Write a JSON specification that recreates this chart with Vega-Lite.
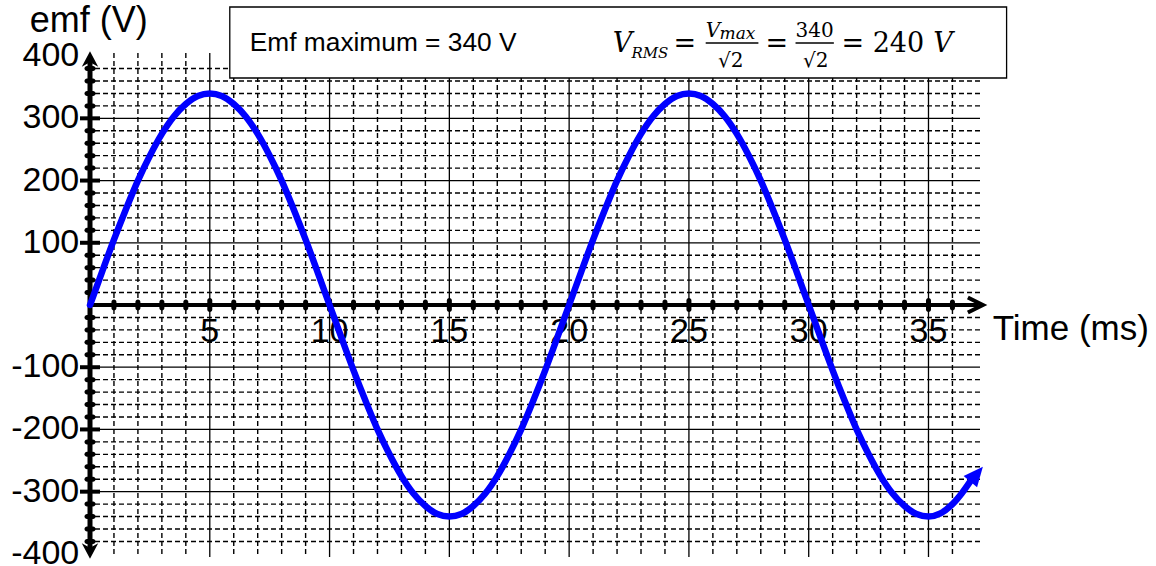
{
  "$schema": "https://vega.github.io/schema/vega-lite/v6.json",
  "width": 890,
  "height": 504,
  "autosize": "none",
  "padding": {"left": 90, "top": 53, "right": 176, "bottom": 9},
  "background": "white",
  "config": {"view": {"stroke": null}, "axis": {"disable": true}},
  "datasets": {
    "vminor": [{"x":1},{"x":2},{"x":3},{"x":4},{"x":6},{"x":7},{"x":8},{"x":9},{"x":11},{"x":12},{"x":13},{"x":14},{"x":16},{"x":17},{"x":18},{"x":19},{"x":21},{"x":22},{"x":23},{"x":24},{"x":26},{"x":27},{"x":28},{"x":29},{"x":31},{"x":32},{"x":33},{"x":34},{"x":36}],
    "vmajor": [{"x":5},{"x":10},{"x":15},{"x":20},{"x":25},{"x":30},{"x":35}],
    "hminor": [{"y":20},{"y":40},{"y":60},{"y":80},{"y":120},{"y":140},{"y":160},{"y":180},{"y":220},{"y":240},{"y":260},{"y":280},{"y":320},{"y":340},{"y":360},{"y":380},{"y":-20},{"y":-40},{"y":-60},{"y":-80},{"y":-120},{"y":-140},{"y":-160},{"y":-180},{"y":-220},{"y":-240},{"y":-260},{"y":-280},{"y":-320},{"y":-340},{"y":-360},{"y":-380}],
    "hmajor": [{"y":100},{"y":200},{"y":300},{"y":-100},{"y":-200},{"y":-300}],
    "curve": [
      {"t":0,"v":0},{"t":0.5,"v":53},{"t":1,"v":105},{"t":1.5,"v":154},{"t":2,"v":200},{"t":2.5,"v":240},{"t":3,"v":275},{"t":3.5,"v":303},{"t":4,"v":323},{"t":4.5,"v":336},
      {"t":5,"v":340},{"t":5.5,"v":336},{"t":6,"v":323},{"t":6.5,"v":303},{"t":7,"v":275},{"t":7.5,"v":240},{"t":8,"v":200},{"t":8.5,"v":154},{"t":9,"v":105},{"t":9.5,"v":53},
      {"t":10,"v":0},{"t":10.5,"v":-53},{"t":11,"v":-105},{"t":11.5,"v":-154},{"t":12,"v":-200},{"t":12.5,"v":-240},{"t":13,"v":-275},{"t":13.5,"v":-303},{"t":14,"v":-323},{"t":14.5,"v":-336},
      {"t":15,"v":-340},{"t":15.5,"v":-336},{"t":16,"v":-323},{"t":16.5,"v":-303},{"t":17,"v":-275},{"t":17.5,"v":-240},{"t":18,"v":-200},{"t":18.5,"v":-154},{"t":19,"v":-105},{"t":19.5,"v":-53},
      {"t":20,"v":0},{"t":20.5,"v":53},{"t":21,"v":105},{"t":21.5,"v":154},{"t":22,"v":200},{"t":22.5,"v":240},{"t":23,"v":275},{"t":23.5,"v":303},{"t":24,"v":323},{"t":24.5,"v":336},
      {"t":25,"v":340},{"t":25.5,"v":336},{"t":26,"v":323},{"t":26.5,"v":303},{"t":27,"v":275},{"t":27.5,"v":240},{"t":28,"v":200},{"t":28.5,"v":154},{"t":29,"v":105},{"t":29.5,"v":53},
      {"t":30,"v":0},{"t":30.5,"v":-53},{"t":31,"v":-105},{"t":31.5,"v":-154},{"t":32,"v":-200},{"t":32.5,"v":-240},{"t":33,"v":-275},{"t":33.5,"v":-303},{"t":34,"v":-323},{"t":34.5,"v":-336},
      {"t":35,"v":-340},{"t":35.5,"v":-335},{"t":36,"v":-320},{"t":36.4,"v":-302},{"t":36.75,"v":-283}
    ],
    "ylabels": [{"y":400,"label":"400"},{"y":300,"label":"300"},{"y":200,"label":"200"},{"y":100,"label":"100"},{"y":-100,"label":"-100"},{"y":-200,"label":"-200"},{"y":-300,"label":"-300"},{"y":-400,"label":"-400"}],
    "xlabels": [{"x":5,"label":"5"},{"x":10,"label":"10"},{"x":15,"label":"15"},{"x":20,"label":"20"},{"x":25,"label":"25"},{"x":30,"label":"30"},{"x":35,"label":"35"}]
  },
  "layer": [
    {
      "data": {"name": "hminor"},
      "mark": {"type": "rule", "color": "black", "strokeWidth": 1.4, "strokeDash": [5, 3]},
      "encoding": {"y": {"field": "y", "type": "quantitative", "scale": {"domain": [-405, 405], "nice": false, "zero": false}}}
    },
    {
      "data": {"name": "hmajor"},
      "mark": {"type": "rule", "color": "black", "strokeWidth": 1.3},
      "encoding": {"y": {"field": "y", "type": "quantitative"}}
    },
    {
      "data": {"name": "vminor"},
      "mark": {"type": "rule", "color": "black", "strokeWidth": 1.4, "strokeDash": [5, 3]},
      "encoding": {"x": {"field": "x", "type": "quantitative", "scale": {"domain": [0, 37.15], "nice": false, "zero": false}}}
    },
    {
      "data": {"name": "vmajor"},
      "mark": {"type": "rule", "color": "black", "strokeWidth": 1.3},
      "encoding": {"x": {"field": "x", "type": "quantitative"}}
    },
    {
      "data": {"values": [{"x": 5.835, "x2": 38.26, "y": 478.9, "y2": 364.8}]},
      "mark": {"type": "rect", "fill": "white", "stroke": "black", "strokeWidth": 1.3},
      "encoding": {
        "x": {"field": "x", "type": "quantitative"}, "x2": {"field": "x2"},
        "y": {"field": "y", "type": "quantitative"}, "y2": {"field": "y2"}
      }
    },
    {
      "data": {"values": [{"x": 0, "x2": 37.1, "y": 0}]},
      "mark": {"type": "rule", "color": "black", "strokeWidth": 4},
      "encoding": {"x": {"field": "x", "type": "quantitative"}, "x2": {"field": "x2"}, "y": {"field": "y", "type": "quantitative"}}
    },
    {
      "data": {"values": [{"x": 0, "y": -398, "y2": 398}]},
      "mark": {"type": "rule", "color": "black", "strokeWidth": 5},
      "encoding": {"x": {"field": "x", "type": "quantitative"}, "y": {"field": "y", "type": "quantitative"}, "y2": {"field": "y2"}}
    },
    {
      "data": {"name": "vminor"},
      "mark": {"type": "tick", "orient": "vertical", "color": "black", "size": 11, "thickness": 5, "cornerRadius": 2.5, "opacity": 1},
      "encoding": {"x": {"field": "x", "type": "quantitative"}, "y": {"datum": 0, "type": "quantitative"}}
    },
    {
      "data": {"name": "vmajor"},
      "mark": {"type": "tick", "orient": "vertical", "color": "black", "size": 14, "thickness": 5, "cornerRadius": 2.5, "opacity": 1},
      "encoding": {"x": {"field": "x", "type": "quantitative"}, "y": {"datum": 0, "type": "quantitative"}}
    },
    {
      "data": {"name": "hminor"},
      "mark": {"type": "tick", "orient": "horizontal", "color": "black", "size": 11, "thickness": 5, "cornerRadius": 2.5, "opacity": 1},
      "encoding": {"y": {"field": "y", "type": "quantitative"}, "x": {"datum": 0, "type": "quantitative"}}
    },
    {
      "data": {"name": "hmajor"},
      "mark": {"type": "tick", "orient": "horizontal", "color": "black", "size": 20, "thickness": 4, "opacity": 1},
      "encoding": {"y": {"field": "y", "type": "quantitative"}, "x": {"datum": 0, "type": "quantitative"}}
    },
    {
      "data": {"values": [{"x": 37.27, "y": 0}]},
      "mark": {"type": "point", "shape": "M-2,-1L0,0L-2,1", "size": 225, "filled": false, "stroke": "black", "strokeWidth": 4, "opacity": 1},
      "encoding": {"x": {"field": "x", "type": "quantitative"}, "y": {"field": "y", "type": "quantitative"}}
    },
    {
      "data": {"values": [{"x": 0, "y": 393.7}]},
      "mark": {"type": "point", "shape": "M0,-1L0.9,0.7L0,0.2L-0.9,0.7Z", "size": 200, "filled": true, "fill": "black", "stroke": "black", "strokeWidth": 1.5, "opacity": 1},
      "encoding": {"x": {"field": "x", "type": "quantitative"}, "y": {"field": "y", "type": "quantitative"}}
    },
    {
      "data": {"values": [{"x": 0, "y": -393.7}]},
      "mark": {"type": "point", "shape": "M0,1L0.9,-0.7L0,-0.2L-0.9,-0.7Z", "size": 200, "filled": true, "fill": "black", "stroke": "black", "strokeWidth": 1.5, "opacity": 1},
      "encoding": {"x": {"field": "x", "type": "quantitative"}, "y": {"field": "y", "type": "quantitative"}}
    },
    {
      "data": {"name": "ylabels"},
      "mark": {"type": "text", "font": "Liberation Sans", "fontSize": 34, "align": "right", "baseline": "middle", "color": "black"},
      "encoding": {"y": {"field": "y", "type": "quantitative"}, "x": {"datum": -0.45, "type": "quantitative"}, "text": {"field": "label"}}
    },
    {
      "data": {"name": "xlabels"},
      "mark": {"type": "text", "font": "Liberation Sans", "fontSize": 34, "align": "center", "baseline": "middle", "color": "black"},
      "encoding": {"x": {"field": "x", "type": "quantitative"}, "y": {"datum": -44, "type": "quantitative"}, "text": {"field": "label"}}
    },
    {
      "data": {"name": "curve"},
      "mark": {"type": "line", "color": "#0000ff", "strokeWidth": 6.5, "interpolate": "monotone", "strokeCap": "round"},
      "encoding": {"x": {"field": "t", "type": "quantitative"}, "y": {"field": "v", "type": "quantitative"}}
    },
    {
      "data": {"values": [{"x": 37.27, "y": -260}]},
      "mark": {"type": "point", "shape": "M0,0L-2,-0.9L-2,0.9Z", "size": 380, "angle": -50, "filled": true, "fill": "#0000ff", "strokeWidth": 0, "opacity": 1},
      "encoding": {"x": {"field": "x", "type": "quantitative"}, "y": {"field": "y", "type": "quantitative"}}
    },
    {
      "data": {"values": [{"x": 37.68, "y": -38.6, "label": "Time (ms)"}]},
      "mark": {"type": "text", "font": "Liberation Sans", "fontSize": 35, "align": "left", "baseline": "middle", "color": "black"},
      "encoding": {"x": {"field": "x", "type": "quantitative"}, "y": {"field": "y", "type": "quantitative"}, "text": {"field": "label"}}
    },
    {
      "data": {"values": [{"x": -0.05, "y": 457, "label": "emf (V)"}]},
      "mark": {"type": "text", "font": "Liberation Sans", "fontSize": 36, "align": "center", "baseline": "middle", "color": "black"},
      "encoding": {"x": {"field": "x", "type": "quantitative"}, "y": {"field": "y", "type": "quantitative"}, "text": {"field": "label"}}
    },
    {
      "data": {"values": [{"x": 6.67, "y": 421, "label": "Emf maximum = 340 V"}]},
      "mark": {"type": "text", "font": "Liberation Sans", "fontSize": 26.3, "align": "left", "baseline": "middle", "color": "black"},
      "encoding": {"x": {"field": "x", "type": "quantitative"}, "y": {"field": "y", "type": "quantitative"}, "text": {"field": "label"}}
    },
    {
      "data": {"values": [{"x": 21.82, "y": 406.6, "label": "V"}, {"x": 35.2, "y": 406.6, "label": "V"}]},
      "mark": {"type": "text", "font": "DejaVu Serif", "fontStyle": "italic", "fontSize": 27, "align": "left", "baseline": "alphabetic", "color": "black"},
      "encoding": {"x": {"field": "x", "type": "quantitative"}, "y": {"field": "y", "type": "quantitative"}, "text": {"field": "label"}}
    },
    {
      "data": {"values": [{"x": 22.6, "y": 397, "label": "RMS"}]},
      "mark": {"type": "text", "font": "DejaVu Serif", "fontStyle": "italic", "fontSize": 15, "align": "left", "baseline": "alphabetic", "color": "black"},
      "encoding": {"x": {"field": "x", "type": "quantitative"}, "y": {"field": "y", "type": "quantitative"}, "text": {"field": "label"}}
    },
    {
      "data": {"values": [{"x": 24.83, "y": 406.6, "label": "="}, {"x": 28.67, "y": 406.6, "label": "="}, {"x": 31.84, "y": 406.6, "label": "="}]},
      "mark": {"type": "text", "font": "DejaVu Serif", "fontSize": 27, "align": "center", "baseline": "alphabetic", "color": "black"},
      "encoding": {"x": {"field": "x", "type": "quantitative"}, "y": {"field": "y", "type": "quantitative"}, "text": {"field": "label"}}
    },
    {
      "data": {"values": [{"x": 32.67, "y": 406.6, "label": "240"}]},
      "mark": {"type": "text", "font": "DejaVu Serif", "fontSize": 27, "align": "left", "baseline": "alphabetic", "color": "black"},
      "encoding": {"x": {"field": "x", "type": "quantitative"}, "y": {"field": "y", "type": "quantitative"}, "text": {"field": "label"}}
    },
    {
      "data": {"values": [{"x": 25.7, "y": 431, "label": "V"}]},
      "mark": {"type": "text", "font": "DejaVu Serif", "fontStyle": "italic", "fontSize": 20, "align": "left", "baseline": "alphabetic", "color": "black"},
      "encoding": {"x": {"field": "x", "type": "quantitative"}, "y": {"field": "y", "type": "quantitative"}, "text": {"field": "label"}}
    },
    {
      "data": {"values": [{"x": 26.28, "y": 428, "label": "max"}]},
      "mark": {"type": "text", "font": "DejaVu Serif", "fontStyle": "italic", "fontSize": 17, "align": "left", "baseline": "alphabetic", "color": "black"},
      "encoding": {"x": {"field": "x", "type": "quantitative"}, "y": {"field": "y", "type": "quantitative"}, "text": {"field": "label"}}
    },
    {
      "data": {"values": [{"x": 30.25, "y": 431, "label": "340"}, {"x": 26.75, "y": 383, "label": "√2"}, {"x": 30.29, "y": 383, "label": "√2"}]},
      "mark": {"type": "text", "font": "DejaVu Serif", "fontSize": 20, "align": "center", "baseline": "alphabetic", "color": "black"},
      "encoding": {"x": {"field": "x", "type": "quantitative"}, "y": {"field": "y", "type": "quantitative"}, "text": {"field": "label"}}
    },
    {
      "data": {"values": [{"x": 25.7, "x2": 27.9, "y": 421}, {"x": 29.45, "x2": 31.05, "y": 421}]},
      "mark": {"type": "rule", "color": "black", "strokeWidth": 1.5},
      "encoding": {"x": {"field": "x", "type": "quantitative"}, "x2": {"field": "x2"}, "y": {"field": "y", "type": "quantitative"}}
    }
  ]
}
